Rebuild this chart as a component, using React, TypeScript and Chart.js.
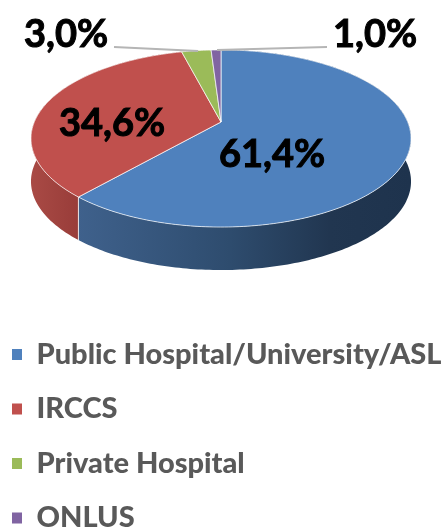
import React, { useEffect, useRef } from "react";
import { Chart, registerables } from "chart.js";

Chart.register(...registerables);

const categories = ["Public Hospital/University/ASL", "IRCCS", "Private Hospital", "ONLUS"];
const shares = [61.4, 34.6, 3.0, 1.0];
const faceColors = ["#4f81bd", "#c0504d", "#9bbb59", "#8064a2"];
const wallStops = [
  [[78, "#3f618c"], [230, "#2e4c6e"], [330, "#213650"], [411, "#1e334d"]],
  [[31, "#a94a45"], [80, "#983c39"]],
  [[0, "#7d9440"], [443, "#7d9440"]],
  [[0, "#604a7c"], [443, "#604a7c"]],
];
const labelAnchors = [
  [272, 155],
  [112, 124],
  [66, 35],
  [375, 35],
];
const leaders = [
  null,
  null,
  [[114, 47], [198, 51]],
  [[327, 47], [217, 50]],
];

// Projection of the unit pie disc onto the tilted view
const CX = 221, CY = 122, A = 186.7, B = 85.5, K = 0.186, DEPTH = 43;
const project = (angle: number, r = 1) => {
  // Chart.js angle: -PI/2 is the top of the pie, clockwise
  const u = Math.cos(angle) * r;
  const v = Math.sin(angle) * r;
  const w = 1 - K * v;
  return [CX + (A * u) / w, CY + (B * v) / w];
};

const pie3d = {
  id: "pie3d",
  afterLayout(chart: any) {
    const lg = chart.legend;
    lg.left = -13.5;
    lg.right = 470;
    lg.bottom = 558;
    lg.top = 300;
  },
  beforeDatasetDraw(chart: any) {
    const ctx = chart.ctx;
    const arcs = chart.getDatasetMeta(0).data;
    const steps = (a: any) => Math.max(4, Math.ceil((a.endAngle - a.startAngle) * 60));
    ctx.save();
    ctx.lineJoin = "round";
    // side walls
    arcs.forEach((a: any, i: number) => {
      const x0 = wallStops[i][0][0] as number;
      const x1 = wallStops[i][wallStops[i].length - 1][0] as number;
      const g = ctx.createLinearGradient(x0, 0, x1, 0);
      wallStops[i].forEach((s: any) => g.addColorStop((s[0] - x0) / (x1 - x0), s[1]));
      ctx.fillStyle = g;
      const n = steps(a);
      ctx.beginPath();
      for (let k = 0; k <= n; k++) {
        const [x, y] = project(a.startAngle + ((a.endAngle - a.startAngle) * k) / n);
        k ? ctx.lineTo(x, y) : ctx.moveTo(x, y);
      }
      for (let k = n; k >= 0; k--) {
        const [x, y] = project(a.startAngle + ((a.endAngle - a.startAngle) * k) / n);
        ctx.lineTo(x, y + DEPTH);
      }
      ctx.closePath();
      ctx.fill();
    });
    // seam on the wall between blue and red
    const [sx, sy] = project(arcs[0].endAngle);
    ctx.strokeStyle = "rgba(255,255,255,0.8)";
    ctx.lineWidth = 1;
    ctx.beginPath();
    ctx.moveTo(sx, sy);
    ctx.lineTo(sx, sy + DEPTH);
    ctx.stroke();
    // top faces
    arcs.forEach((a: any, i: number) => {
      const n = steps(a);
      ctx.beginPath();
      ctx.moveTo(CX, CY);
      for (let k = 0; k <= n; k++) {
        const [x, y] = project(a.startAngle + ((a.endAngle - a.startAngle) * k) / n);
        ctx.lineTo(x, y);
      }
      ctx.closePath();
      ctx.fillStyle = faceColors[i];
      ctx.fill();
      ctx.strokeStyle = "rgba(255,255,255,0.7)";
      ctx.lineWidth = 1;
      ctx.stroke();
    });
    ctx.restore();
    return false;
  },
  afterDatasetsDraw(chart: any) {
    const ctx = chart.ctx;
    ctx.save();
    ctx.strokeStyle = "#b5b5b5";
    ctx.lineWidth = 2;
    leaders.forEach((l) => {
      if (!l) return;
      ctx.beginPath();
      ctx.moveTo(l[0][0], l[0][1]);
      ctx.lineTo(l[1][0], l[1][1]);
      ctx.stroke();
    });
    ctx.fillStyle = "#000";
    ctx.strokeStyle = "#000";
    ctx.lineWidth = 1;
    ctx.font = "bold 38px Lato";
    ctx.textAlign = "center";
    ctx.textBaseline = "middle";
    chart.data.datasets[0].data.forEach((v: number, i: number) => {
      const text = v.toFixed(1).replace(".", ",") + "%";
      ctx.fillText(text, labelAnchors[i][0], labelAnchors[i][1]);
      ctx.strokeText(text, labelAnchors[i][0], labelAnchors[i][1]);
    });
    ctx.restore();
  },
};

export default function App() {
  const ref = useRef<HTMLCanvasElement>(null);
  useEffect(() => {
    const chart = new Chart(ref.current!, {
      type: "pie",
      data: {
        labels: categories,
        datasets: [{ data: shares, backgroundColor: faceColors, borderWidth: 0 }],
      },
      options: {
        responsive: false,
        animation: false,
        layout: { padding: 0 },
        plugins: {
          tooltip: { enabled: false },
          legend: {
            position: "left",
            align: "end",
            labels: {
              boxWidth: 10,
              boxHeight: 11,
              padding: 25.5,
              color: "#595959",
              font: { family: "Lato", weight: "900", size: 29 },
            },
          },
        },
      },
      plugins: [pie3d],
    } as any);
    return () => chart.destroy();
  }, []);
  return (
    <div style={{ position: "absolute", left: 0, top: 0 }}>
      <canvas ref={ref} width={443} height={530} style={{ display: "block" }} />
    </div>
  );
}
